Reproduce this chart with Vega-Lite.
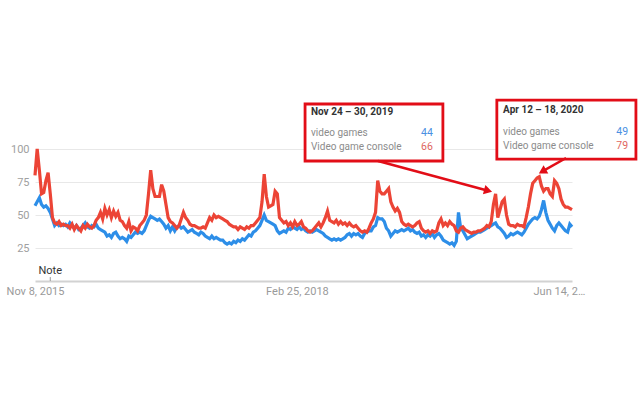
{
"$schema":"https://vega.github.io/schema/vega-lite/v6.json",
"width":537,"height":132,
"autosize":{"type":"none"},
"padding":{"left":35,"top":149,"right":68,"bottom":118},
"background":"white",
"config":{"view":{"stroke":null},"font":"Roboto"},
"datasets":{
"trend":[
{"d":"2015-11-08","g":57,"c":80},{"d":"2015-11-15","g":60,"c":100},{"d":"2015-11-22","g":63,"c":84},{"d":"2015-11-29","g":58,"c":66},{"d":"2015-12-06","g":56,"c":67},{"d":"2015-12-13","g":57,"c":76},{"d":"2015-12-20","g":55,"c":82},{"d":"2015-12-27","g":52,"c":66},
{"d":"2016-01-03","g":47,"c":48},{"d":"2016-01-10","g":42,"c":44},{"d":"2016-01-17","g":44,"c":43},{"d":"2016-01-24","g":42,"c":45},{"d":"2016-01-31","g":43,"c":42},{"d":"2016-02-07","g":42,"c":43},{"d":"2016-02-14","g":43,"c":42},{"d":"2016-02-21","g":41,"c":42},{"d":"2016-02-28","g":44,"c":40},{"d":"2016-03-06","g":42,"c":43},{"d":"2016-03-13","g":40,"c":39},{"d":"2016-03-20","g":42,"c":42},{"d":"2016-03-27","g":39,"c":40},{"d":"2016-04-03","g":40,"c":38},{"d":"2016-04-10","g":42,"c":42},{"d":"2016-04-17","g":44,"c":40},{"d":"2016-04-24","g":41,"c":43},{"d":"2016-05-01","g":40,"c":41},{"d":"2016-05-08","g":42,"c":40},{"d":"2016-05-15","g":41,"c":42},{"d":"2016-05-22","g":43,"c":46},{"d":"2016-05-29","g":40,"c":48},{"d":"2016-06-05","g":39,"c":52},{"d":"2016-06-12","g":38,"c":47},{"d":"2016-06-19","g":37,"c":55},{"d":"2016-06-26","g":34,"c":50},{"d":"2016-07-03","g":35,"c":54},{"d":"2016-07-10","g":33,"c":48},{"d":"2016-07-17","g":36,"c":53},{"d":"2016-07-24","g":37,"c":49},{"d":"2016-07-31","g":34,"c":52},{"d":"2016-08-07","g":32,"c":46},{"d":"2016-08-14","g":33,"c":45},{"d":"2016-08-21","g":32,"c":42},{"d":"2016-08-28","g":30,"c":40},{"d":"2016-09-04","g":34,"c":45},{"d":"2016-09-11","g":33,"c":38},{"d":"2016-09-18","g":35,"c":41},{"d":"2016-09-25","g":37,"c":40},{"d":"2016-10-02","g":36,"c":38},{"d":"2016-10-09","g":37,"c":42},{"d":"2016-10-16","g":36,"c":44},{"d":"2016-10-23","g":38,"c":46},{"d":"2016-10-30","g":42,"c":50},{"d":"2016-11-06","g":46,"c":66},{"d":"2016-11-13","g":49,"c":84},{"d":"2016-11-20","g":48,"c":70},{"d":"2016-11-27","g":47,"c":64},{"d":"2016-12-04","g":46,"c":64},{"d":"2016-12-11","g":47,"c":64},{"d":"2016-12-18","g":45,"c":73},{"d":"2016-12-25","g":43,"c":68},
{"d":"2017-01-01","g":40,"c":58},{"d":"2017-01-08","g":42,"c":48},{"d":"2017-01-15","g":38,"c":45},{"d":"2017-01-22","g":41,"c":44},{"d":"2017-01-29","g":38,"c":42},{"d":"2017-02-05","g":41,"c":40},{"d":"2017-02-12","g":42,"c":42},{"d":"2017-02-19","g":40,"c":47},{"d":"2017-02-26","g":41,"c":52},{"d":"2017-03-05","g":39,"c":48},{"d":"2017-03-12","g":37,"c":46},{"d":"2017-03-19","g":38,"c":43},{"d":"2017-03-26","g":39,"c":42},{"d":"2017-04-02","g":37,"c":42},{"d":"2017-04-09","g":36,"c":41},{"d":"2017-04-16","g":35,"c":40},{"d":"2017-04-23","g":37,"c":40},{"d":"2017-04-30","g":36,"c":41},{"d":"2017-05-07","g":34,"c":40},{"d":"2017-05-14","g":33,"c":44},{"d":"2017-05-21","g":32,"c":48},{"d":"2017-05-28","g":34,"c":46},{"d":"2017-06-04","g":32,"c":50},{"d":"2017-06-11","g":33,"c":48},{"d":"2017-06-18","g":32,"c":49},{"d":"2017-06-25","g":31,"c":48},{"d":"2017-07-02","g":31,"c":47},{"d":"2017-07-09","g":29,"c":46},{"d":"2017-07-16","g":28,"c":45},{"d":"2017-07-23","g":29,"c":43},{"d":"2017-07-30","g":28,"c":42},{"d":"2017-08-06","g":30,"c":41},{"d":"2017-08-13","g":29,"c":41},{"d":"2017-08-20","g":31,"c":39},{"d":"2017-08-27","g":30,"c":41},{"d":"2017-09-03","g":32,"c":40},{"d":"2017-09-10","g":31,"c":39},{"d":"2017-09-17","g":33,"c":41},{"d":"2017-09-24","g":35,"c":40},{"d":"2017-10-01","g":34,"c":42},{"d":"2017-10-08","g":37,"c":42},{"d":"2017-10-15","g":38,"c":44},{"d":"2017-10-22","g":40,"c":46},{"d":"2017-10-29","g":42,"c":48},{"d":"2017-11-05","g":46,"c":60},{"d":"2017-11-12","g":50,"c":81},{"d":"2017-11-19","g":46,"c":64},{"d":"2017-11-26","g":45,"c":56},{"d":"2017-12-03","g":44,"c":57},{"d":"2017-12-10","g":43,"c":58},{"d":"2017-12-17","g":42,"c":68},{"d":"2017-12-24","g":38,"c":66},{"d":"2017-12-31","g":36,"c":48},
{"d":"2018-01-07","g":37,"c":46},{"d":"2018-01-14","g":38,"c":44},{"d":"2018-01-21","g":37,"c":45},{"d":"2018-01-28","g":40,"c":42},{"d":"2018-02-04","g":39,"c":44},{"d":"2018-02-11","g":41,"c":41},{"d":"2018-02-18","g":40,"c":45},{"d":"2018-02-25","g":39,"c":42},{"d":"2018-03-04","g":41,"c":43},{"d":"2018-03-11","g":39,"c":45},{"d":"2018-03-18","g":40,"c":41},{"d":"2018-03-25","g":38,"c":40},{"d":"2018-04-01","g":37,"c":38},{"d":"2018-04-08","g":38,"c":37},{"d":"2018-04-15","g":37,"c":38},{"d":"2018-04-22","g":38,"c":40},{"d":"2018-04-29","g":39,"c":42},{"d":"2018-05-06","g":38,"c":44},{"d":"2018-05-13","g":37,"c":41},{"d":"2018-05-20","g":36,"c":44},{"d":"2018-05-27","g":34,"c":48},{"d":"2018-06-03","g":33,"c":53},{"d":"2018-06-10","g":32,"c":46},{"d":"2018-06-17","g":31,"c":45},{"d":"2018-06-24","g":32,"c":44},{"d":"2018-07-01","g":31,"c":46},{"d":"2018-07-08","g":32,"c":43},{"d":"2018-07-15","g":31,"c":45},{"d":"2018-07-22","g":32,"c":43},{"d":"2018-07-29","g":33,"c":44},{"d":"2018-08-05","g":35,"c":42},{"d":"2018-08-12","g":36,"c":44},{"d":"2018-08-19","g":34,"c":42},{"d":"2018-08-26","g":36,"c":41},{"d":"2018-09-02","g":35,"c":42},{"d":"2018-09-09","g":36,"c":40},{"d":"2018-09-16","g":34,"c":38},{"d":"2018-09-23","g":33,"c":37},{"d":"2018-09-30","g":36,"c":38},{"d":"2018-10-07","g":37,"c":37},{"d":"2018-10-14","g":38,"c":40},{"d":"2018-10-21","g":38,"c":44},{"d":"2018-10-28","g":41,"c":47},{"d":"2018-11-04","g":42,"c":52},{"d":"2018-11-11","g":48,"c":76},{"d":"2018-11-18","g":47,"c":68},{"d":"2018-11-25","g":47,"c":66},{"d":"2018-12-02","g":45,"c":66},{"d":"2018-12-09","g":40,"c":68},{"d":"2018-12-16","g":38,"c":70},{"d":"2018-12-23","g":34,"c":60},{"d":"2018-12-30","g":36,"c":56},
{"d":"2019-01-06","g":38,"c":53},{"d":"2019-01-13","g":37,"c":55},{"d":"2019-01-20","g":38,"c":52},{"d":"2019-01-27","g":39,"c":45},{"d":"2019-02-03","g":38,"c":43},{"d":"2019-02-10","g":39,"c":42},{"d":"2019-02-17","g":40,"c":43},{"d":"2019-02-24","g":38,"c":42},{"d":"2019-03-03","g":39,"c":41},{"d":"2019-03-10","g":37,"c":42},{"d":"2019-03-17","g":36,"c":44},{"d":"2019-03-24","g":37,"c":45},{"d":"2019-03-31","g":34,"c":40},{"d":"2019-04-07","g":35,"c":38},{"d":"2019-04-14","g":33,"c":37},{"d":"2019-04-21","g":35,"c":38},{"d":"2019-04-28","g":34,"c":36},{"d":"2019-05-05","g":36,"c":38},{"d":"2019-05-12","g":33,"c":37},{"d":"2019-05-19","g":35,"c":38},{"d":"2019-05-26","g":36,"c":44},{"d":"2019-06-02","g":34,"c":47},{"d":"2019-06-09","g":31,"c":42},{"d":"2019-06-16","g":30,"c":44},{"d":"2019-06-23","g":29,"c":42},{"d":"2019-06-30","g":28,"c":45},{"d":"2019-07-07","g":29,"c":43},{"d":"2019-07-14","g":27,"c":42},{"d":"2019-07-21","g":30,"c":38},{"d":"2019-07-28","g":52,"c":37},{"d":"2019-08-04","g":40,"c":40},{"d":"2019-08-11","g":38,"c":41},{"d":"2019-08-18","g":35,"c":39},{"d":"2019-08-25","g":32,"c":38},{"d":"2019-09-01","g":33,"c":37},{"d":"2019-09-08","g":34,"c":36},{"d":"2019-09-15","g":35,"c":37},{"d":"2019-09-22","g":36,"c":37},{"d":"2019-09-29","g":37,"c":38},{"d":"2019-10-06","g":37,"c":38},{"d":"2019-10-13","g":38,"c":39},{"d":"2019-10-20","g":39,"c":40},{"d":"2019-10-27","g":40,"c":42},{"d":"2019-11-03","g":41,"c":41},{"d":"2019-11-10","g":42,"c":45},{"d":"2019-11-17","g":43,"c":58},{"d":"2019-11-24","g":44,"c":66},{"d":"2019-12-01","g":41,"c":48},{"d":"2019-12-08","g":40,"c":54},{"d":"2019-12-15","g":38,"c":60},{"d":"2019-12-22","g":36,"c":62},{"d":"2019-12-29","g":33,"c":50},
{"d":"2020-01-05","g":34,"c":43},{"d":"2020-01-12","g":36,"c":42},{"d":"2020-01-19","g":35,"c":42},{"d":"2020-01-26","g":36,"c":41},{"d":"2020-02-02","g":37,"c":43},{"d":"2020-02-09","g":36,"c":42},{"d":"2020-02-16","g":35,"c":42},{"d":"2020-02-23","g":37,"c":41},{"d":"2020-03-01","g":40,"c":48},{"d":"2020-03-08","g":43,"c":56},{"d":"2020-03-15","g":45,"c":66},{"d":"2020-03-22","g":47,"c":74},{"d":"2020-03-29","g":48,"c":76},{"d":"2020-04-05","g":47,"c":78},{"d":"2020-04-12","g":49,"c":79},{"d":"2020-04-19","g":54,"c":72},{"d":"2020-04-26","g":61,"c":68},{"d":"2020-05-03","g":52,"c":70},{"d":"2020-05-10","g":46,"c":70},{"d":"2020-05-17","g":43,"c":66},{"d":"2020-05-24","g":40,"c":64},{"d":"2020-05-31","g":38,"c":76},{"d":"2020-06-07","g":42,"c":74},{"d":"2020-06-14","g":44,"c":70},{"d":"2020-06-21","g":42,"c":62},{"d":"2020-06-28","g":40,"c":58},{"d":"2020-07-05","g":38,"c":56},{"d":"2020-07-12","g":37,"c":56},{"d":"2020-07-19","g":43,"c":55},{"d":"2020-07-26","g":41,"c":54}
],
"boxes":[{"x1":"2018-03-23","x2":"2019-06-08","y1":134.1,"y2":90.9},{"x1":"2019-11-28","x2":"2021-02-16","y1":137.1,"y2":92.4}],
"titles":[{"t":"2018-04-11","v":128.0,"s":"Nov 24 – 30, 2019"},{"t":"2019-12-18","v":129.5,"s":"Apr 12 – 18, 2020"}],
"names":[{"t":"2018-04-11","v":112.1,"s":"video games"},{"t":"2018-04-11","v":101.5,"s":"Video game console"},{"t":"2019-12-18","v":112.9,"s":"video games"},{"t":"2019-12-18","v":102.3,"s":"Video game console"}],
"gvals":[{"t":"2019-05-07","v":112.1,"n":44},{"t":"2021-01-22","v":112.9,"n":49}],
"cvals":[{"t":"2019-05-07","v":101.5,"n":66},{"t":"2021-01-22","v":102.3,"n":79}],
"arrows":[{"t1":"2018-11-12","v1":90.9,"t2":"2019-10-31","v2":68.4},{"t1":"2020-07-07","v1":93.2,"t2":"2020-04-22","v2":83.0}],
"note":[{"t":"2015-12-27","v":7.6,"v0":0,"v3":3,"s":"Note"}]
},
"layer":[
{"data":{"name":"trend"},"mark":{"type":"line","color":"#2d8ee8","strokeWidth":3.2},
 "encoding":{
  "x":{"field":"d","type":"temporal","scale":{"domain":[{"year":2015,"month":11,"date":8,"utc":true},{"year":2020,"month":7,"date":26,"utc":true}]},
   "axis":{"title":null,"values":[{"year":2015,"month":11,"date":8,"utc":true},{"year":2018,"month":2,"date":25,"utc":true},{"year":2020,"month":6,"date":14,"utc":true}],
    "labelExpr":"utcyear(datum.value) == 2020 ? 'Jun 14, 2…' : utcFormat(datum.value, '%b %-d, %Y')",
    "labelFlush":false,"labelOverlap":false,"labelBound":false,"ticks":false,"grid":false,"domainColor":"#d2d2d2","domainWidth":2,"labelColor":"#9a9a9a","labelFontSize":11,"labelPadding":4}},
  "y":{"field":"g","type":"quantitative","scale":{"domain":[0,100]},
   "axis":{"title":null,"values":[25,50,75,100],"grid":true,"gridColor":"#e8e8e8","domain":false,"ticks":false,"labelColor":"#a0a0a0","labelFontSize":11,"labelPadding":6}}
 }},
{"data":{"name":"trend"},"mark":{"type":"line","color":"#ec4436","strokeWidth":3.2},
 "encoding":{
  "x":{"field":"d","type":"temporal","scale":{"domain":[{"year":2015,"month":11,"date":8,"utc":true},{"year":2020,"month":7,"date":26,"utc":true}]},"axis":{"title":null}},
  "y":{"field":"c","type":"quantitative","scale":{"domain":[0,100]},"axis":{"title":null}}
 }},
{"data":{"name":"note"},"mark":{"type":"rule","color":"#9a9a9a","strokeWidth":1},
 "encoding":{"x":{"field":"t","type":"temporal","axis":{"title":null}},"y":{"field":"v0","type":"quantitative","axis":{"title":null}},"y2":{"field":"v3"}}},
{"data":{"name":"note"},"mark":{"type":"text","color":"#333333","fontSize":11,"align":"center","baseline":"middle"},
 "encoding":{"x":{"field":"t","type":"temporal","axis":{"title":null}},"y":{"field":"v","type":"quantitative","axis":{"title":null}},"text":{"field":"s"}}},
{"data":{"name":"boxes"},"mark":{"type":"rect","fill":"white","stroke":"#e20d17","strokeWidth":2.8},
 "encoding":{"x":{"field":"x1","type":"temporal","axis":{"title":null}},"x2":{"field":"x2"},"y":{"field":"y1","type":"quantitative","axis":{"title":null}},"y2":{"field":"y2"}}},
{"data":{"name":"titles"},"mark":{"type":"text","color":"#333333","fontSize":10,"fontWeight":"bold","align":"left","baseline":"middle"},
 "encoding":{"x":{"field":"t","type":"temporal","axis":{"title":null}},"y":{"field":"v","type":"quantitative","axis":{"title":null}},"text":{"field":"s"}}},
{"data":{"name":"names"},"mark":{"type":"text","color":"#8c8c8c","fontSize":10,"align":"left","baseline":"middle"},
 "encoding":{"x":{"field":"t","type":"temporal","axis":{"title":null}},"y":{"field":"v","type":"quantitative","axis":{"title":null}},"text":{"field":"s"}}},
{"data":{"name":"gvals"},"mark":{"type":"text","color":"#4a90e2","fontSize":10.5,"align":"right","baseline":"middle"},
 "encoding":{"x":{"field":"t","type":"temporal","axis":{"title":null}},"y":{"field":"v","type":"quantitative","axis":{"title":null}},"text":{"field":"n"}}},
{"data":{"name":"cvals"},"mark":{"type":"text","color":"#e06660","fontSize":10.5,"align":"right","baseline":"middle"},
 "encoding":{"x":{"field":"t","type":"temporal","axis":{"title":null}},"y":{"field":"v","type":"quantitative","axis":{"title":null}},"text":{"field":"n"}}},
{"data":{"name":"arrows"},"mark":{"type":"rule","color":"#e20d17","strokeWidth":2.5},
 "encoding":{"x":{"field":"t1","type":"temporal","axis":{"title":null}},"x2":{"field":"t2"},"y":{"field":"v1","type":"quantitative","axis":{"title":null}},"y2":{"field":"v2"}}},
{"data":{"values":[{"t":"2019-10-31","v":68.4}]},"mark":{"type":"point","shape":"triangle-right","filled":true,"color":"#e20d17","size":90,"angle":15,"opacity":1},
 "encoding":{"x":{"field":"t","type":"temporal","axis":{"title":null}},"y":{"field":"v","type":"quantitative","axis":{"title":null}}}},
{"data":{"values":[{"t":"2020-04-22","v":83.0}]},"mark":{"type":"point","shape":"triangle-right","filled":true,"color":"#e20d17","size":90,"angle":150,"opacity":1},
 "encoding":{"x":{"field":"t","type":"temporal","axis":{"title":null}},"y":{"field":"v","type":"quantitative","axis":{"title":null}}}}
]
}
